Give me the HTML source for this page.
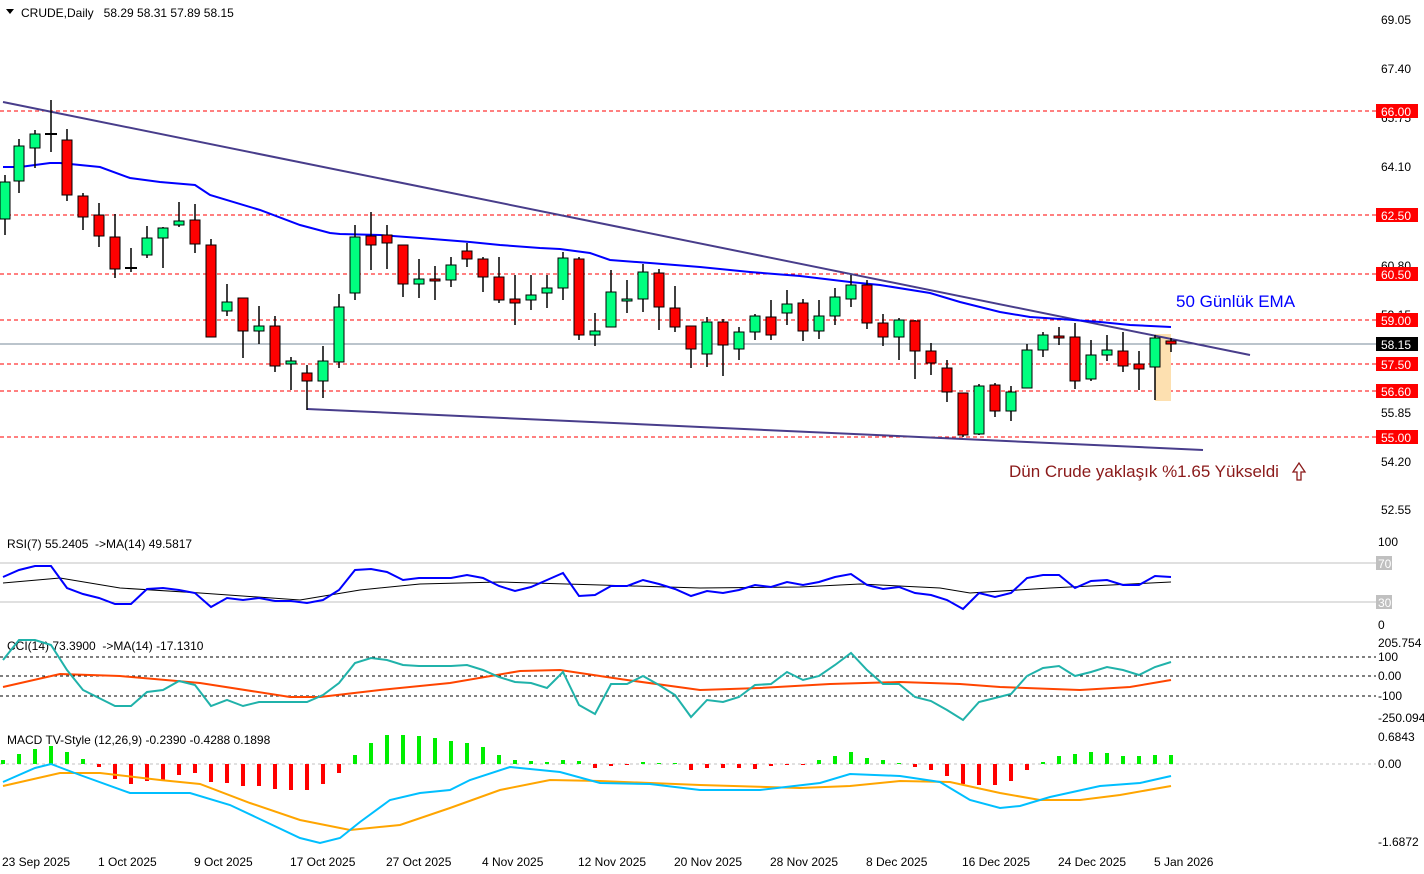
<!DOCTYPE html>
<html><head><meta charset="utf-8"><style>
body{margin:0;background:#fff;width:1424px;height:874px;overflow:hidden}
svg{display:block}
text{font-family:"Liberation Sans","DejaVu Sans",sans-serif;font-size:12px}
</style></head><body>
<svg id="s" width="1424" height="874" xmlns="http://www.w3.org/2000/svg"></svg>
<script>
const s=document.getElementById('s');let h='';
function L(pts,c,w,extra){h+=`<polyline fill="none" stroke="${c}" stroke-width="${w}" points="${pts.map(p=>p.join(',')).join(' ')}" ${extra||''}/>`;}
function T(x,y,t,c,sz,extra){h+=`<text x="${x}" y="${y}" style="fill:${c||'#000'};font-size:${sz||12}px" ${extra||''}>${t}</text>`;}
[[111,'66.00'],[215,'62.50'],[274,'60.50'],[320,'59.00'],[364,'57.50'],[391,'56.60'],[437,'55.00']].forEach(([y,t])=>{
h+=`<line x1="0" x2="1376" y1="${y}" y2="${y}" stroke="#f00" stroke-dasharray="4,3"/>`;});
h+=`<line x1="0" x2="1376" y1="344" y2="344" stroke="#778899"/>`;
h+=`<rect x="1155" y="334" width="16" height="67" fill="#fde0b0"/>`;
[[20,'69.05'],[69,'67.40'],[118,'65.75'],[167,'64.10'],[266,'60.80'],[315,'59.15'],[413,'55.85'],[462,'54.20'],[510,'52.55']].forEach(([y,t])=>T(1381,y+4,t));
L([[3,102],[1250,355]],'#483d8b',2);
L([[307,409],[1203,450]],'#483d8b',2);
L([[3,167],[20,167],[50,163],[60,163],[100,167],[130,178],[160,182],[195,185],[210,195],[260,210],[300,225],[330,233],[340,234],[380,235],[420,238],[470,242],[500,245],[540,248],[560,249],[590,253],[610,260],[650,263],[700,267],[750,272],[800,276],[850,282],[880,285],[930,293],[960,302],[1000,312],[1030,317],[1060,319],[1100,322],[1130,325],[1171,327]],'#0000ff',2);
const C=[[5,175,219,182,235,'g'],[19,139,181,146,193,'g'],[35,130,148,134,168,'g'],[51,100,134,134,152,'d'],[67,129,140,195,201,'r'],[83,193,196,217,230,'r'],[99,203,215,236,247,'r'],[115,214,237,269,278,'r'],[131,248,268,268,272,'d'],[147,226,255,238,258,'g'],[163,227,238,228,268,'g'],[179,202,225,221,227,'g'],[195,204,220,244,253,'r'],[211,239,245,337,337,'r'],[227,284,311,302,316,'g'],[243,298,298,331,358,'r'],[259,306,331,326,344,'g'],[275,316,326,366,372,'r'],[291,357,364,361,390,'g'],[307,365,373,381,410,'r'],[323,346,381,361,398,'g'],[339,294,362,307,368,'g'],[355,225,293,237,300,'g'],[371,212,236,245,270,'r'],[387,225,235,243,269,'r'],[403,245,245,284,297,'r'],[419,259,284,279,298,'g'],[435,266,279,281,300,'r'],[451,257,280,265,287,'g'],[467,243,251,259,267,'r'],[483,257,259,277,292,'r'],[499,257,277,300,303,'r'],[515,275,299,303,325,'r'],[531,275,300,295,310,'g'],[547,275,293,288,308,'g'],[563,252,288,258,300,'g'],[579,257,259,335,340,'r'],[595,313,335,331,346,'g'],[611,270,327,292,327,'g'],[627,280,301,299,313,'g'],[643,264,299,272,312,'g'],[659,269,273,307,330,'r'],[675,286,308,327,332,'r'],[691,326,326,349,368,'r'],[707,317,354,322,367,'g'],[723,319,322,345,376,'r'],[739,327,349,332,360,'g'],[755,314,332,316,340,'g'],[771,300,317,335,340,'r'],[787,290,313,304,325,'g'],[803,299,303,331,341,'r'],[819,300,331,316,339,'g'],[835,288,316,297,325,'g'],[851,275,299,285,307,'g'],[867,280,285,323,329,'r'],[883,314,323,337,346,'r'],[899,318,337,320,360,'g'],[915,320,321,351,379,'r'],[931,343,351,363,375,'r'],[947,360,368,392,402,'r'],[963,393,393,435,437,'r'],[979,384,434,386,435,'g'],[995,383,385,411,417,'r'],[1011,386,411,392,421,'g'],[1027,344,388,350,388,'g'],[1043,332,350,335,357,'g'],[1059,327,336,338,345,'r'],[1075,323,337,381,389,'r'],[1091,340,379,355,381,'g'],[1107,335,355,350,361,'g'],[1123,332,351,366,372,'r'],[1139,351,364,369,390,'r'],[1155,335,367,338,400,'g'],[1171,338,341,344,352,'r']];
C.forEach(([x,hi,o,c,lo,k])=>{h+=`<line x1="${x}" x2="${x}" y1="${hi}" y2="${lo}" stroke="#000" stroke-width="1.5"/>`;
const t=Math.min(o,c),b=Math.max(o,c);
if(k=='d'){h+=`<line x1="${x-6}" x2="${x+6}" y1="${o}" y2="${o}" stroke="#000" stroke-width="2"/>`;}
else h+=`<rect x="${x-5}" y="${t}" width="10" height="${Math.max(b-t,2)}" fill="${k=='g'?'#00ff7f':'#ff0000'}" stroke="#000" stroke-width="1"/>`;});
[[111,'66.00'],[215,'62.50'],[274,'60.50'],[320,'59.00'],[364,'57.50'],[391,'56.60'],[437,'55.00']].forEach(([y,t])=>{
h+=`<rect x="1376" y="${y-7}" width="42" height="14" fill="#f00"/>`;T(1381,y+5,t,'#fff');});
h+=`<rect x="1376" y="337" width="42" height="14" fill="#000"/>`;T(1381,349,'58.15','#fff');
T(1176,307,'50 Günlük EMA','#0000ff',17);
T(1009,477,'Dün Crude yaklaşık %1.65 Yükseldi','#8b1a1a',17);
h+=`<path d="M1293,472 L1299,463 L1305,472 L1301,472 L1301,480 L1297,480 L1297,472 Z" fill="none" stroke="#8b1a1a" stroke-width="1.3"/>`;
h+=`<path d="M6,9 L14,9 L10,14 Z" fill="#000"/>`;T(21,17,'CRUDE,Daily&#160;&#160;&#160;58.29 58.31 57.89 58.15');
h+=`<line x1="0" x2="1376" y1="563" y2="563" stroke="#c0c0c0"/><line x1="0" x2="1376" y1="602" y2="602" stroke="#c0c0c0"/>`;
h+=`<rect x="1376" y="556" width="16" height="14" fill="#c0c0c0"/><rect x="1376" y="595" width="16" height="14" fill="#c0c0c0"/>`;
T(1378,568,'70','#fff');T(1378,607,'30','#fff');T(1378,546,'100');T(1378,629,'0');
T(7,548,'RSI(7) 55.2405&#160;&#160;-&gt;MA(14) 49.5817');
L([[3,583],[60,578],[120,588],[200,593],[300,600],[360,590],[420,584],[500,582],[600,585],[700,588],[800,587],[860,584],[940,588],[970,593],[1050,588],[1171,582]],'#000',1);
const xs=i=>3+16*i;
const rsi=[577,570,566,566,588,594,598,604,604,589,588,590,593,607,598,600,598,601,601,603,600,590,570,569,572,580,578,578,578,575,578,586,591,587,580,573,596,595,586,586,580,584,589,596,591,593,590,585,587,582,585,582,577,574,585,589,587,593,595,600,609,593,597,593,578,575,575,588,581,580,585,585,576,577];
L(rsi.map((y,i)=>[xs(i),y]),'#0000ff',2);
[657,676,696].forEach(y=>h+=`<line x1="0" x2="1376" y1="${y}" y2="${y}" stroke="#000" stroke-dasharray="3,3"/>`);
T(1378,647,'205.754');T(1378,661,'100');T(1378,680,'0.00');T(1378,700,'-100');T(1378,722,'-250.094');
T(7,650,'CCI(14) 73.3900&#160;&#160;-&gt;MA(14) -17.1310');
L([[3,687],[60,674],[120,676],[200,683],[290,697],[320,697],[380,690],[450,683],[520,671],[560,670],[620,679],[700,690],[760,688],[830,684],[900,682],[960,684],[1000,687],[1080,690],[1130,687],[1171,680]],'#ff4500',2);
const cci=[660,640,640,645,670,690,698,706,706,692,690,681,685,706,700,706,702,702,702,702,695,683,663,658,660,665,666,666,666,665,670,677,682,683,688,672,705,714,684,684,676,685,695,717,700,702,697,685,684,672,680,676,665,653,670,684,684,697,701,710,720,702,698,694,676,668,666,676,672,667,670,675,667,662];
L(cci.map((y,i)=>[xs(i),y]),'#20b2aa',2);
h+=`<line x1="0" x2="1376" y1="764" y2="764" stroke="#c0c0c0" stroke-dasharray="3,3"/>`;
T(1378,741,'0.6843');T(1378,768,'0.00');T(1378,846,'-1.6872');
T(7,744,'MACD TV-Style (12,26,9) -0.2390 -0.4288 0.1898');
const hist=[760,754,749,746,752,759,767,779,784,781,780,775,773,782,783,786,786,789,790,790,784,773,755,743,735,735,736,738,741,743,747,755,760,761,762,760,761,768,766,765,762,763,763,770,768,768,768,769,766,764,764,760,756,752,758,760,763,767,770,776,784,785,785,781,770,762,756,754,752,753,756,756,755,755];
hist.forEach((y,i)=>{const x=xs(i);const up=y<764;h+=`<rect x="${x-2}" y="${Math.min(y,764)}" width="4" height="${Math.abs(764-y)||1}" fill="${up?'#00ee00':'#ff0000'}"/>`;});
L([[3,786],[60,773],[100,773],[160,780],[200,784],[250,803],[300,820],[350,830],[400,825],[450,808],[500,790],[550,780],[600,781],[700,785],[800,788],[850,786],[900,781],[950,782],[1000,793],[1040,800],[1080,800],[1120,795],[1171,786]],'#ffa500',2);
L([[3,782],[35,768],[51,764],[80,775],[130,793],[190,793],[230,805],[300,838],[320,843],[340,838],[360,822],[390,800],[420,793],[450,790],[470,780],[510,767],[560,772],[600,783],[650,784],[700,790],[760,790],[820,783],[850,774],[900,776],[940,782],[970,800],[1000,808],[1020,806],[1050,797],[1100,786],[1140,783],[1171,776]],'#00bfff',2);
[[2,'23 Sep 2025'],[98,'1 Oct 2025'],[194,'9 Oct 2025'],[290,'17 Oct 2025'],[386,'27 Oct 2025'],[482,'4 Nov 2025'],[578,'12 Nov 2025'],[674,'20 Nov 2025'],[770,'28 Nov 2025'],[866,'8 Dec 2025'],[962,'16 Dec 2025'],[1058,'24 Dec 2025'],[1154,'5 Jan 2026']].forEach(([x,t])=>T(x,866,t));
s.innerHTML=h;
</script>
</body></html>
